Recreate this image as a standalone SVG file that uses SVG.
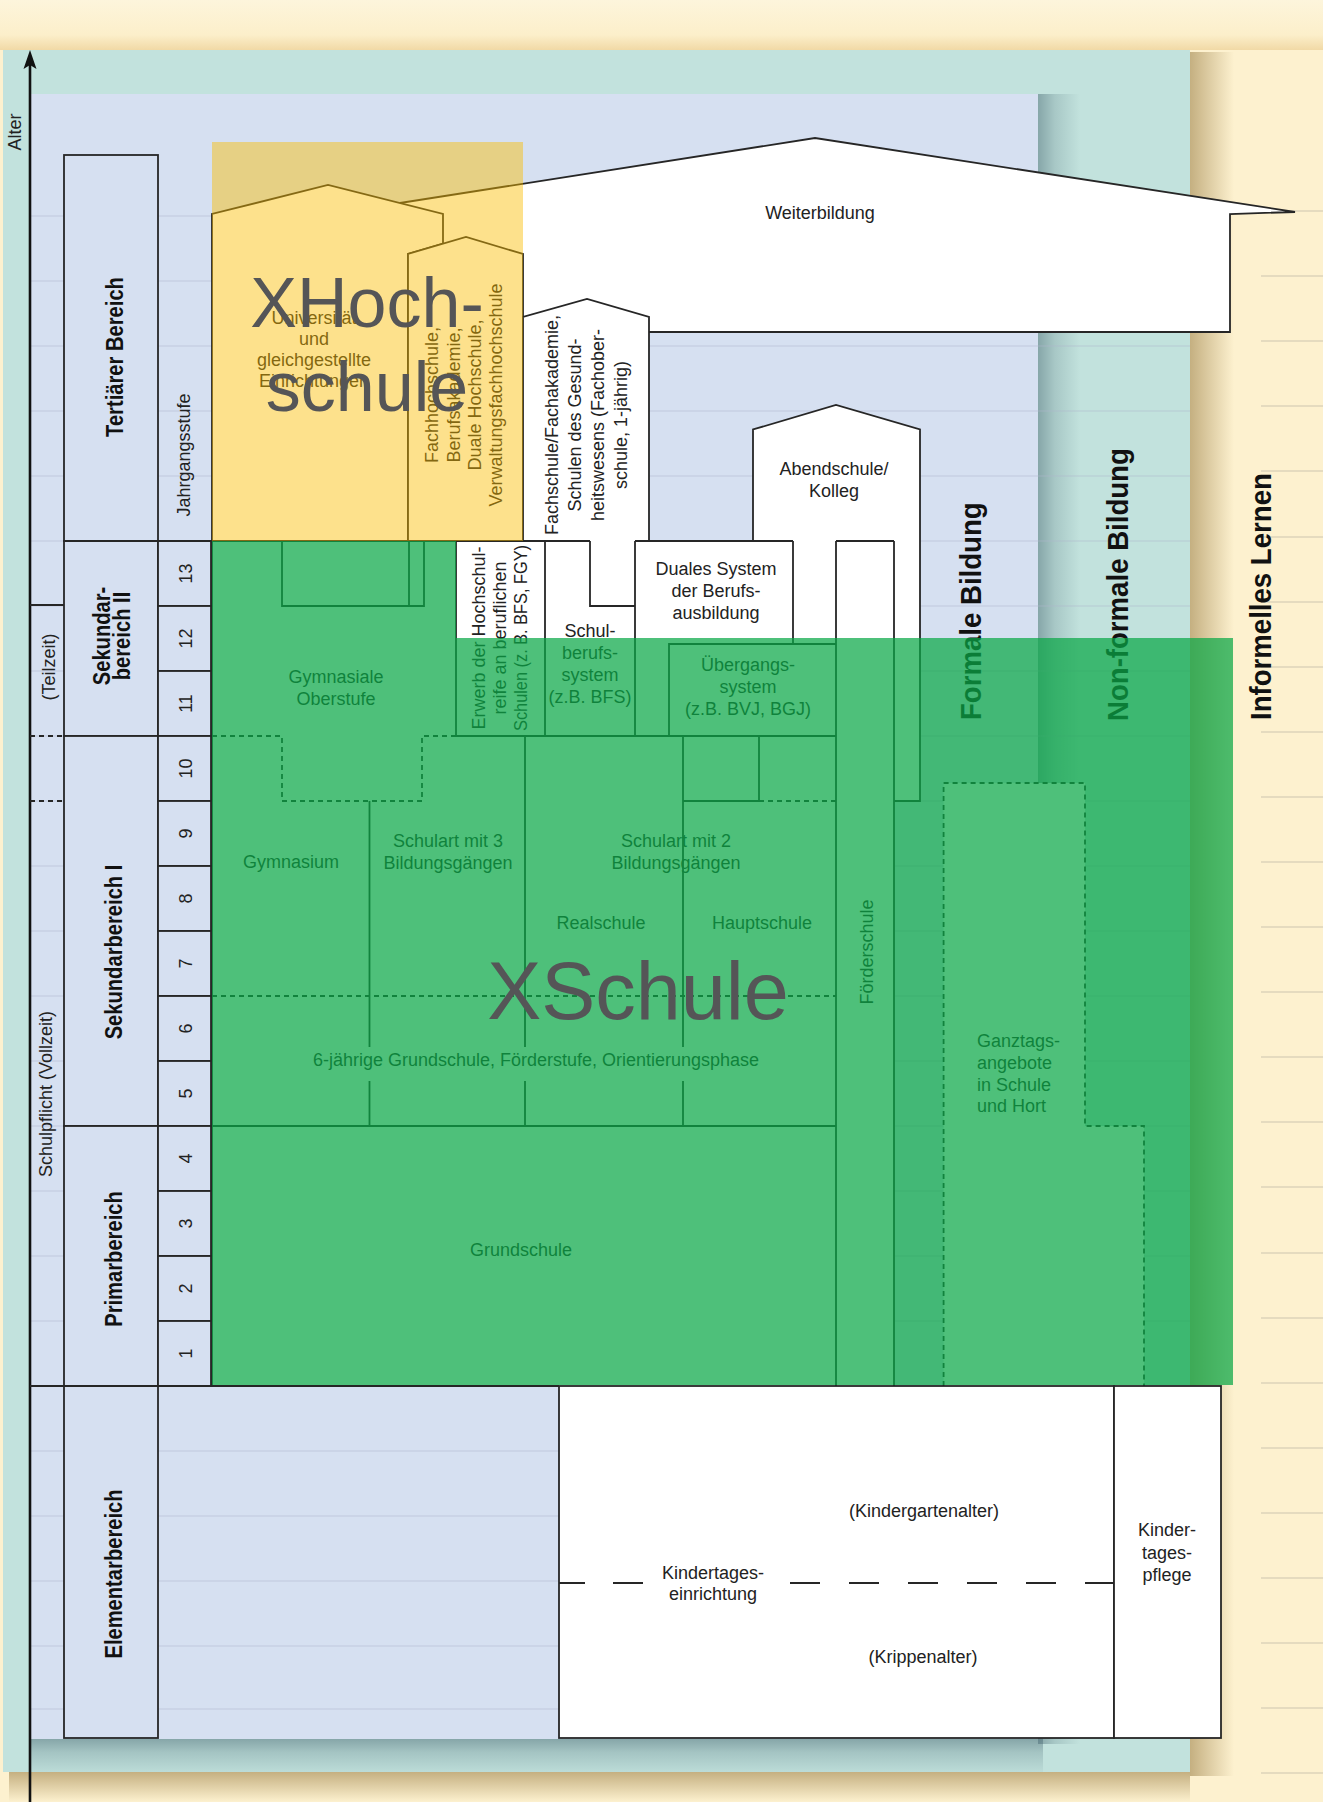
<svg xmlns="http://www.w3.org/2000/svg" width="1323" height="1802" viewBox="0 0 1323 1802">
<defs>
<style>
.t{font-family:'Liberation Sans',Arial,sans-serif;font-size:18px;fill:#222}
.c{text-anchor:middle}
.b{font-weight:bold;font-size:24px;fill:#111}
.big{font-weight:bold;font-size:30px;fill:#111}
.ov{font-family:'Liberation Sans',Arial,sans-serif;fill:#555557;text-anchor:middle}
.ln{stroke:#262626;stroke-width:1.8;fill:none}
.dl{stroke:#262626;stroke-width:1.8;fill:none;stroke-dasharray:5 4}
.box{fill:#fff;stroke:#262626;stroke-width:1.8}
.wf{fill:#fff;stroke:none}
.lav{fill:#d6e0f1;stroke:#262626;stroke-width:1.8}
.grid{stroke:#aeb8cc;stroke-width:1;opacity:0.55;fill:none}
.cgrid{stroke:#cdc6b0;stroke-width:1.2;fill:none}
</style>
<linearGradient id="topband" x1="0" y1="0" x2="0" y2="1">
<stop offset="0" stop-color="#fdf5dc"/><stop offset="0.7" stop-color="#fcefca"/><stop offset="1" stop-color="#f1d9a6"/>
</linearGradient>
<linearGradient id="lsr" x1="0" y1="0" x2="1" y2="0">
<stop offset="0" stop-color="#4a6a74" stop-opacity="0.5"/><stop offset="0.4" stop-color="#4a6a74" stop-opacity="0.22"/><stop offset="1" stop-color="#4a6a74" stop-opacity="0"/>
</linearGradient>
<linearGradient id="lsb" x1="0" y1="0" x2="0" y2="1">
<stop offset="0" stop-color="#4a6a74" stop-opacity="0.5"/><stop offset="0.4" stop-color="#4a6a74" stop-opacity="0.25"/><stop offset="1" stop-color="#4a6a74" stop-opacity="0.05"/>
</linearGradient>
<linearGradient id="tsr" x1="0" y1="0" x2="1" y2="0">
<stop offset="0" stop-color="#8c6e32" stop-opacity="0.5"/><stop offset="1" stop-color="#8c6e32" stop-opacity="0"/>
</linearGradient>
<linearGradient id="tsb" x1="0" y1="0" x2="0" y2="1">
<stop offset="0" stop-color="#8c6e32" stop-opacity="0.5"/><stop offset="1" stop-color="#8c6e32" stop-opacity="0"/>
</linearGradient>
</defs>

<g id="background">
<rect x="0" y="0" width="1323" height="1802" fill="#fdf1cf"/>
<rect x="0" y="0" width="1323" height="50" fill="url(#topband)"/>
<rect x="1190" y="52" width="44" height="1724" fill="url(#tsr)"/>
<rect x="9" y="1772" width="1181" height="30" fill="url(#tsb)"/>
<rect x="3" y="50" width="1187" height="1722" fill="#c2e2dd"/>
<rect x="1038" y="94" width="42" height="1650" fill="url(#lsr)"/>
<rect x="31" y="1739" width="1012" height="33" fill="url(#lsb)"/>
<rect x="31" y="94" width="1007" height="1645" fill="#d6e0f1"/>
<path class="grid" d="M31,216H1190M31,281H1190M31,346H1190M31,411H1190M31,476H1190M31,541H1190M31,606H1190M31,671H1190M31,736H1190M31,801H1190M31,866H1190M31,931H1190M31,996H1190M31,1061H1190M31,1126H1190M31,1191H1190M31,1256H1190M31,1321H1190M31,1386H1190M31,1451H1038M31,1516H1038M31,1581H1038M31,1646H1038M31,1709H1038"/>
<path class="cgrid" d="M1261,211H1323M1261,276H1323M1261,341H1323M1261,406H1323M1261,471H1323M1261,537H1323M1261,602H1323M1261,667H1323M1261,732H1323M1261,797H1323M1261,862H1323M1261,927H1323M1261,992H1323M1261,1057H1323M1261,1122H1323M1261,1187H1323M1261,1253H1323M1261,1318H1323M1261,1383H1323M1261,1448H1323M1261,1513H1323M1261,1578H1323M1261,1643H1323M1261,1708H1323M1261,1773H1323"/>
</g>

<g id="axis">
<line x1="30" y1="62" x2="30" y2="1802" stroke="#111" stroke-width="2.6"/>
<path d="M30,50L36.5,69L30,65L23.5,69Z" fill="#111"/>
<text class="t c" font-size="19" transform="translate(21,132) rotate(-90)">Alter</text>
</g>

<g id="n-tertiaer"><rect class="lav" x="64" y="155" width="94" height="386"/><text class="t b c" transform="translate(123,357) rotate(-90) scale(0.84,1)">Tertiärer Bereich</text></g>
<g id="n-sek2"><rect class="lav" x="64" y="541" width="94" height="195"/><text class="t b c" transform="translate(110,636) rotate(-90) scale(0.84,1)">Sekundar-</text><text class="t b c" transform="translate(130,636) rotate(-90) scale(0.84,1)">bereich II</text></g>
<g id="n-sek1"><rect class="lav" x="64" y="736" width="94" height="390"/><text class="t b c" transform="translate(122,952) rotate(-90) scale(0.84,1)">Sekundarbereich I</text></g>
<g id="n-primar"><rect class="lav" x="64" y="1126" width="94" height="260"/><text class="t b c" transform="translate(122,1259) rotate(-90) scale(0.84,1)">Primarbereich</text></g>
<g id="n-elementar"><rect class="lav" x="64" y="1386" width="94" height="352"/><text class="t b c" transform="translate(122,1574) rotate(-90) scale(0.84,1)">Elementarbereich</text></g>

<g id="n-jahrgangsstufe">
<text class="t c" transform="translate(190,455) rotate(-90)">Jahrgangsstufe</text>
<rect class="lav" x="158" y="541" width="53" height="65"/><text class="t c" font-size="17" transform="translate(192,573.5) rotate(-90)">13</text>
<rect class="lav" x="158" y="606" width="53" height="65"/><text class="t c" font-size="17" transform="translate(192,638.5) rotate(-90)">12</text>
<rect class="lav" x="158" y="671" width="53" height="65"/><text class="t c" font-size="17" transform="translate(192,703.5) rotate(-90)">11</text>
<rect class="lav" x="158" y="736" width="53" height="65"/><text class="t c" font-size="17" transform="translate(192,768.5) rotate(-90)">10</text>
<rect class="lav" x="158" y="801" width="53" height="65"/><text class="t c" font-size="17" transform="translate(192,833.5) rotate(-90)">9</text>
<rect class="lav" x="158" y="866" width="53" height="65"/><text class="t c" font-size="17" transform="translate(192,898.5) rotate(-90)">8</text>
<rect class="lav" x="158" y="931" width="53" height="65"/><text class="t c" font-size="17" transform="translate(192,963.5) rotate(-90)">7</text>
<rect class="lav" x="158" y="996" width="53" height="65"/><text class="t c" font-size="17" transform="translate(192,1028.5) rotate(-90)">6</text>
<rect class="lav" x="158" y="1061" width="53" height="65"/><text class="t c" font-size="17" transform="translate(192,1093.5) rotate(-90)">5</text>
<rect class="lav" x="158" y="1126" width="53" height="65"/><text class="t c" font-size="17" transform="translate(192,1158.5) rotate(-90)">4</text>
<rect class="lav" x="158" y="1191" width="53" height="65"/><text class="t c" font-size="17" transform="translate(192,1223.5) rotate(-90)">3</text>
<rect class="lav" x="158" y="1256" width="53" height="65"/><text class="t c" font-size="17" transform="translate(192,1288.5) rotate(-90)">2</text>
<rect class="lav" x="158" y="1321" width="53" height="65"/><text class="t c" font-size="17" transform="translate(192,1353.5) rotate(-90)">1</text>
</g>

<g id="n-schulpflicht">
<text class="t c" font-size="18.5" transform="translate(55,667) rotate(-90)">(Teilzeit)</text>
<text class="t c" font-size="19" transform="translate(52,1094) rotate(-90)">Schulpflicht (Vollzeit)</text>
</g>

<g id="n-weiterbildung">
<polygon class="wf" points="400,203 815,138 1295,212 1230,214 1230,332 443,332 443,214"/>
<path class="ln" d="M400,203L815,138L1295,212L1230,214V332H649"/>
<text class="t c" font-size="18.5" x="820" y="219">Weiterbildung</text>
</g>

<g id="n-universitaet">
<polygon class="box" points="212,541 212,214 328,185 443,214 443,243.7 408,254 408,541"/>
<text class="t c" fill="#333" x="314" y="324">Universität</text>
<text class="t c" fill="#333" x="314" y="345">und</text>
<text class="t c" fill="#333" x="314" y="366">gleichgestellte</text>
<text class="t c" fill="#333" x="314" y="387">Einrichtungen</text>
</g>

<g id="n-fachhochschule">
<polygon class="box" points="408,541 408,254 466,237 523,254 523,541"/>
<text class="t c" transform="translate(438,395) rotate(-90)">Fachhochschule,</text>
<text class="t c" transform="translate(459.5,395) rotate(-90)">Berufsakademie,</text>
<text class="t c" transform="translate(481,395) rotate(-90)">Duale Hochschule,</text>
<text class="t c" transform="translate(502,395) rotate(-90)">Verwaltungsfachhochschule</text>
</g>

<g id="n-fachschule">
<polygon class="wf" points="523,541 523,317 587,299 649,317 649,541"/>
<path class="ln" d="M523,541V317L587,299L649,317V541"/>
<text class="t c" transform="translate(558,425) rotate(-90)">Fachschule/Fachakademie,</text>
<text class="t c" transform="translate(581,425) rotate(-90)">Schulen des Gesund-</text>
<text class="t c" transform="translate(604,425) rotate(-90)">heitswesens (Fachober-</text>
<text class="t c" transform="translate(627,425) rotate(-90)">schule, 1-jährig)</text>
</g>

<g id="n-abendschule">
<polygon class="wf" points="753,541 753,429.5 836,405 920,429.5 920,801 894,801 894,541"/>
<path class="ln" d="M753,541V429.5L836,405L920,429.5V801H894"/>
<text class="t c" x="834" y="475">Abendschule/</text>
<text class="t c" x="834" y="497">Kolleg</text>
</g>

<g id="n-schulbereich">
<rect class="wf" x="212" y="541" width="682" height="845"/>
</g>

<g id="n-erwerb">
<text class="t c" fill="#333" transform="translate(485,638) rotate(-90)">Erwerb der Hochschul-</text>
<text class="t c" fill="#333" transform="translate(506,638) rotate(-90)">reife an beruflichen</text>
<text class="t c" fill="#333" transform="translate(527,638) rotate(-90)" textLength="186" lengthAdjust="spacingAndGlyphs">Schulen (z. B. BFS, FGY)</text>
</g>
<g id="n-schulberufssystem">
<text class="t c" x="590" y="637">Schul-</text>
<text class="t c" fill="#3a3a3a" x="590" y="659">berufs-</text>
<text class="t c" fill="#3a3a3a" x="590" y="681">system</text>
<text class="t c" fill="#3a3a3a" x="590" y="703">(z.B. BFS)</text>
</g>
<g id="n-duales">
<text class="t c" x="716" y="575">Duales System</text>
<text class="t c" x="716" y="597">der Berufs-</text>
<text class="t c" x="716" y="619">ausbildung</text>
</g>
<g id="n-uebergang">
<text class="t c" fill="#3a3a3a" x="748" y="671">Übergangs-</text>
<text class="t c" fill="#3a3a3a" x="748" y="693">system</text>
<text class="t c" fill="#3a3a3a" x="748" y="715">(z.B. BVJ, BGJ)</text>
</g>
<g id="n-gymoberstufe">
<text class="t c" fill="#3a3a3a" x="336" y="683">Gymnasiale</text>
<text class="t c" fill="#3a3a3a" x="336" y="705">Oberstufe</text>
</g>
<g id="n-gymnasium"><text class="t c" fill="#3a3a3a" x="291" y="868">Gymnasium</text></g>
<g id="n-schulart3">
<text class="t c" fill="#3a3a3a" x="448" y="847">Schulart mit 3</text>
<text class="t c" fill="#3a3a3a" x="448" y="869">Bildungsgängen</text>
</g>
<g id="n-schulart2">
<text class="t c" fill="#3a3a3a" x="676" y="847">Schulart mit 2</text>
<text class="t c" fill="#3a3a3a" x="676" y="869">Bildungsgängen</text>
</g>
<g id="n-realschule"><text class="t c" fill="#3a3a3a" x="601" y="929">Realschule</text></g>
<g id="n-hauptschule"><text class="t c" fill="#3a3a3a" x="762" y="929">Hauptschule</text></g>
<g id="n-orientierung"><text class="t c" fill="#3a3a3a" x="536" y="1066">6-jährige Grundschule, Förderstufe, Orientierungsphase</text></g>
<g id="n-grundschule"><text class="t c" fill="#3a3a3a" x="521" y="1256">Grundschule</text></g>
<g id="n-foerderschule"><text class="t c" fill="#3a3a3a" transform="translate(873,952) rotate(-90)">Förderschule</text></g>

<g id="n-ganztag">
<path class="wf" d="M943.6,1386V783H1085V1126H1144V1386Z"/>
<path class="dl" d="M943.6,1386V783H1085V1126H1144V1386"/>
<text class="t" fill="#3a3a3a" x="977" y="1047">Ganztags-</text>
<text class="t" fill="#3a3a3a" x="977" y="1069">angebote</text>
<text class="t" fill="#3a3a3a" x="977" y="1091">in Schule</text>
<text class="t" fill="#3a3a3a" x="977" y="1112">und Hort</text>
</g>

<g id="n-kita">
<rect class="box" x="559" y="1386" width="555" height="352"/>
<path class="ln" d="M559,1583H643" stroke-dasharray="26 28 30 100"/>
<path class="ln" d="M790,1583H1114" stroke-dasharray="30 29"/>
<text class="t c" font-size="19" x="713" y="1579">Kindertages-</text>
<text class="t c" font-size="19" x="713" y="1600">einrichtung</text>
<text class="t c" font-size="19" x="924" y="1517">(Kindergartenalter)</text>
<text class="t c" font-size="19" x="923" y="1663">(Krippenalter)</text>
</g>
<g id="n-kindertagespflege">
<rect class="box" x="1114" y="1386" width="107" height="352"/>
<text class="t c" font-size="19" x="1167" y="1536">Kinder-</text>
<text class="t c" font-size="19" x="1167" y="1559">tages-</text>
<text class="t c" font-size="19" x="1167" y="1581">pflege</text>
</g>

<g id="connectors">
<path class="ln" d="M64,541H590M635,541H793M836,541H894M30,605H64M30,1386H559M212,541V1386M282,541V606H424V541M409,541V606M456,541V736M545,541V736M590,541V606H635M635,541V736M793,541V644M669,736V644H836M456,736H836M683,736V1047M683,1081V1126M759,736V801M683,801H759M525,736V1047M525,1081V1126M369.5,801V1047M369.5,1081V1126M212,1126H836M836,541V1386M894,541V1386M212,1386H559"/>
<path class="dl" d="M30,736H64M30,801H64M212,736H282V801H422V736H456M759,801H836M212,996H836"/>
</g>

<g id="n-bereiche">
<text class="t big" transform="translate(981,720) rotate(-90) scale(0.92,1)">Formale Bildung</text>
<text class="t big" transform="translate(1128,721) rotate(-90) scale(0.92,1)">Non-formale Bildung</text>
<text class="t big" transform="translate(1271,720) rotate(-90) scale(0.92,1)">Informelles Lernen</text>
</g>

<g id="overlays">
<rect x="212" y="142" width="311" height="399" fill="#fabd00" opacity="0.45"/>
<path d="M212,541H456V638H1233V1385H212Z" fill="#0aa846" opacity="0.72"/>
</g>

<g id="n-xhochschule">
<text class="ov" font-size="70" x="367" y="327">XHoch-</text>
<text class="ov" font-size="70" x="367" y="411">schule</text>
</g>
<g id="n-xschule">
<text class="ov" font-size="81" x="638" y="1019">XSchule</text>
</g>
</svg>
